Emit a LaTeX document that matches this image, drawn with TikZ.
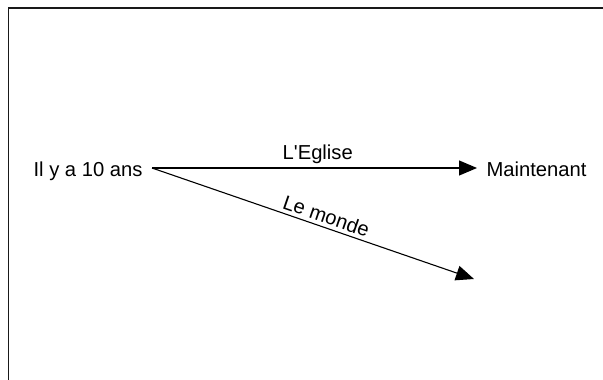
\documentclass[tikz,border=0pt]{standalone}
\usepackage{fontspec}
\setmainfont{Liberation Sans}[Ligatures=TeXOff]
\usetikzlibrary{arrows.meta}
\tikzset{
  side/.style={inner sep=0pt, outer xsep=9.5pt, text height=17pt, text depth=0pt},
  link/.style={line width=1.1pt, -{Triangle[length=18pt,width=15pt]}}
}
\begin{document}
\begin{tikzpicture}[x=1pt, y=-1pt, font=\fontsize{20.2}{24}\selectfont]
\useasboundingbox (0,0) rectangle (603,380);
\draw [line width=1.8pt, black!90] (603,8) -- (8.5,8) -- (8.5,380);
\node [side, anchor=east] (past) at (152,168) {Il y a 10 ans};
\node [side, anchor=west] (now) at (477,168) {Maintenant};
\coordinate (world) at (474,279);
\draw [link] (past.east) -- node [above, pos=0.51] {L'Eglise} (now.west);
\draw [link] (past.east) -- node [above, sloped, pos=0.53] {Le monde} (world);
\end{tikzpicture}
\end{document}
